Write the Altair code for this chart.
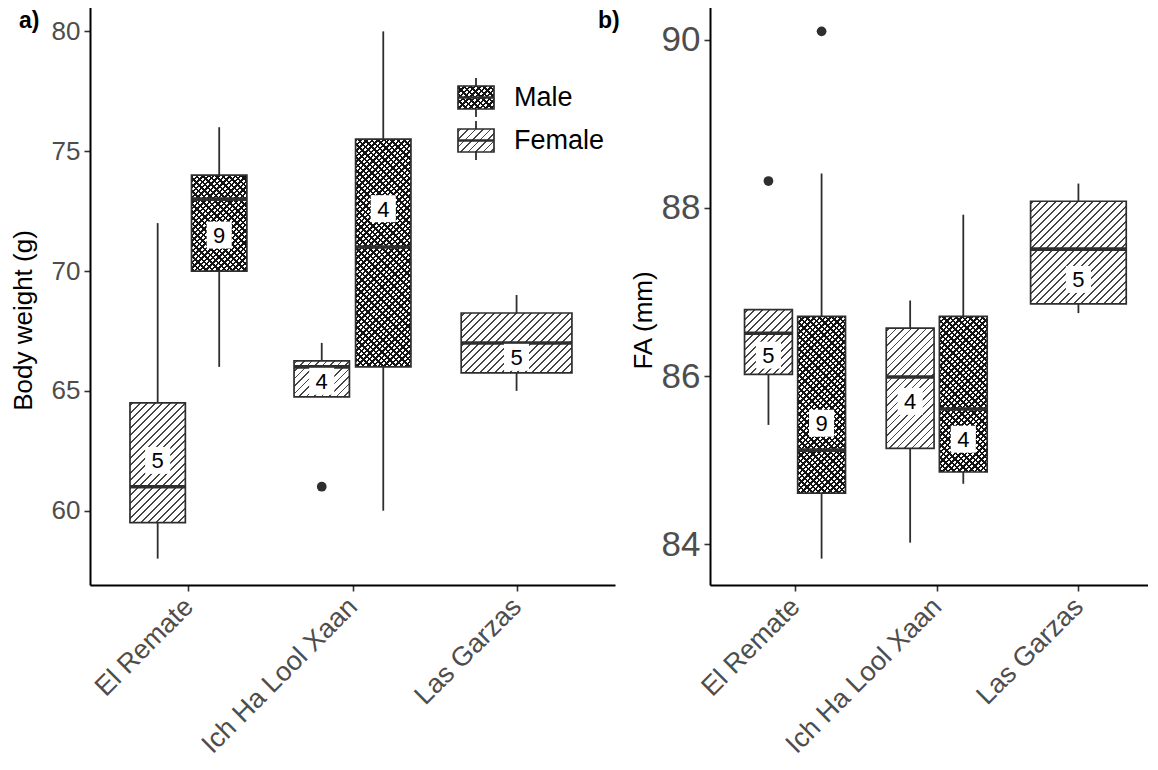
import json
import altair as alt
import pandas as pd

# ---------------- data ----------------
SITES = ["El Remate", "Ich Ha Lool Xaan", "Las Garzas"]
BOX_SITE = ["El Remate", "El Remate", "Ich Ha Lool Xaan", "Ich Ha Lool Xaan", "Las Garzas"]
BOX_SEX = ["Female", "Male", "Female", "Male", "Female"]

# Panel a: body weight (g)
BW_LOW = [58.0, 66.0, 64.75, 60.0, 65.0]
BW_Q1 = [59.5, 70.0, 64.75, 66.0, 65.75]
BW_MED = [61.0, 73.0, 66.0, 71.0, 67.0]
BW_Q3 = [64.5, 74.0, 66.25, 75.5, 68.25]
BW_HIGH = [72.0, 76.0, 67.0, 80.0, 69.0]
BW_N = [5, 9, 4, 4, 5]
BW_MEAN = [62.1, 71.5, 65.4, 72.6, 66.4]
BW_OUT_SITE = ["Ich Ha Lool Xaan"]
BW_OUT_SEX = ["Female"]
BW_OUT = [61.0]

# Panel b: FA (mm)
FA_LOW = [85.42, 83.83, 84.02, 84.72, 86.75]
FA_Q1 = [86.02, 84.61, 85.14, 84.86, 86.86]
FA_MED = [86.51, 85.12, 85.99, 85.61, 87.51]
FA_Q3 = [86.79, 86.71, 86.57, 86.71, 88.08]
FA_HIGH = [86.79, 88.41, 86.90, 87.92, 88.29]
FA_N = [5, 9, 4, 4, 5]
FA_MEAN = [86.25, 85.44, 85.70, 85.25, 87.15]
FA_OUT_SITE = ["El Remate", "El Remate"]
FA_OUT_SEX = ["Female", "Male"]
FA_OUT = [88.32, 90.1]

LEGEND_LABELS = ["Male", "Female"]
PANEL_TAGS = ["a)", "b)"]

# ---------------- layout / style ----------------
H = 580
W_A, XMAX_A = 525, 3.6
W_B = 438
XMAX_B = 0.4 + W_B / 141.7
DODGE, HW2, HW1 = 0.1875, 0.16875, 0.3375
FONT = "Liberation Sans"
LINE = "#2e2e2e"
SITES_JS = json.dumps(SITES)


def stripes(w, h, period, thick, dark, light, phase, direction):
    total = w + h
    stops = []
    c = phase
    while c - thick / 2 < total:
        a = max(c - thick / 2, 0.0)
        b = min(c + thick / 2, total)
        if b > 0:
            stops += [(a / total, light), (a / total, dark), (b / total, dark), (b / total, light)]
        c += period
    L = w * w + h * h
    gx = w * (w + h) / L
    gy = h * (w + h) / L
    if direction == "/":
        x1, y1, x2, y2 = 0, 0, gx, gy
    else:
        x1, y1, x2, y2 = 0, 1, gx, 1 - gy
    return {"gradient": "linear", "x1": x1, "y1": y1, "x2": x2, "y2": y2,
            "stops": [{"offset": round(o, 5), "color": col} for o, col in stops]}


def female_fill(w, h):
    return stripes(w, h, 7.5, 1.9, "#454545", "#ffffff", 3.0, "/")


def male_fills(w, h):
    return (stripes(w, h, 5.4, 2.4, "#141414", "#ffffff", 1.5, "/"),
            stripes(w, h, 6.5, 2.4, "#141414", "rgba(255,255,255,0)", 2.5, "\\"))


LABEL_BG = "M-0.93,-1H0.93V1H-0.93Z"


def panel(low, q1, med, q3, high, n, mean, out_site, out_sex, out_v, W, xmax,
          ticks, y_title, ysize, title_xy, extra=None):
    df = pd.DataFrame(dict(site=BOX_SITE, sex=BOX_SEX, low=low, q1=q1, med=med,
                           q3=q3, high=high, n=n, mean=mean))
    df["ng"] = df.groupby("site")["sex"].transform("count")
    df["bid"] = range(len(df))
    out = pd.DataFrame(dict(site=out_site, sex=out_sex, value=out_v))
    out = out.merge(df[["site", "sex", "ng"]], on=["site", "sex"], how="left")

    lo = min(low + out_v)
    hi = max(high + out_v)
    pad = 0.05 * (hi - lo)
    dom = [lo - pad, hi + pad]
    pxx = W / (xmax - 0.4)
    pxy = H / (dom[1] - dom[0])

    xs = alt.Scale(domain=[0.4, xmax], nice=False, zero=False)
    ys = alt.Scale(domain=dom, nice=False, zero=False)
    xaxis = alt.Axis(values=[1, 2, 3], labelExpr=f"{SITES_JS}[datum.value - 1]", title=None,
                     labelAngle=315, labelAlign="right", labelBaseline="top",
                     labelFontSize=27, labelFlush=False, labelOverlap=False, grid=False,
                     labelPadding=2, labelOffset=-9, labelFont=FONT, labelColor="#4d4d4d",
                     labelLimit=500)
    yaxis = alt.Axis(values=ticks, format="d", title=y_title, labelFontSize=ysize,
                     grid=False, titleX=title_xy[0], titleY=title_xy[1],
                     titleBaseline="middle", titleAngle=270, labelPadding=4,
                     titleFontSize=26, titleFont=FONT, titleFontWeight="normal",
                     titleColor="black", labelFont=FONT, labelColor="#4d4d4d")

    def X(f):
        return alt.X(f"{f}:Q", scale=xs, axis=xaxis)

    def Y(f):
        return alt.Y(f"{f}:Q", scale=ys, axis=yaxis)

    calc = dict(
        xc=f"indexof({SITES_JS}, datum.site) + 1 + (datum.ng > 1 ? (datum.sex == 'Female' ? -{DODGE} : {DODGE}) : 0)",
        hw=f"datum.ng > 1 ? {HW2} : {HW1}",
    )
    base = alt.Chart(df).transform_calculate(**calc).transform_calculate(
        xl="datum.xc - datum.hw", xr="datum.xc + datum.hw")

    layers = []
    layers.append(base.mark_rule(color=LINE, strokeWidth=1.8).encode(x=X("xc"), y=Y("q3"), y2="high:Q"))
    layers.append(base.mark_rule(color=LINE, strokeWidth=1.8).encode(x=X("xc"), y=Y("low"), y2="q1:Q"))

    for i in range(len(df)):
        hw = HW2 if df.ng[i] > 1 else HW1
        w = 2 * hw * pxx
        h = (df.q3[i] - df.q1[i]) * pxy
        sel = base.transform_filter(f"datum.bid == {i}")
        enc = dict(x=X("xl"), x2="xr:Q", y=Y("q1"), y2="q3:Q")
        if df.sex[i] == "Female":
            layers.append(sel.mark_rect(fill=female_fill(w, h)).encode(**enc))
        else:
            f1, f2 = male_fills(w, h)
            layers.append(sel.mark_rect(fill=f1).encode(**enc))
            layers.append(sel.mark_rect(fill=f2).encode(**enc))

    layers.append(base.mark_rect(fillOpacity=0, stroke=LINE, strokeWidth=1.7).encode(
        x=X("xl"), x2="xr:Q", y=Y("q1"), y2="q3:Q"))
    layers.append(base.mark_rule(color=LINE, strokeWidth=3.6).encode(x=X("xl"), x2="xr:Q", y=Y("med")))

    outc = alt.Chart(out).transform_calculate(**calc)
    layers.append(outc.mark_circle(size=95, color=LINE, opacity=1).encode(x=X("xc"), y=Y("value")))

    layers.append(base.mark_point(shape=LABEL_BG, size=729, filled=True, fill="white",
                                  opacity=1, strokeWidth=0).encode(x=X("xc"), y=Y("mean")))
    layers.append(base.mark_text(font=FONT, fontSize=22, color="black", baseline="middle",
                                 align="center", dy=1).encode(x=X("xc"), y=Y("mean"), text="n:Q"))
    if extra:
        layers += extra
    return alt.layer(*layers).properties(width=W, height=H)


# ---------------- legend & panel tags (drawn inside panel a) ----------------
def legend_layers():
    lay = []
    lw, lh = 36, 23
    bx0, bx1 = 368, 404
    keys = [("Male", 81), ("Female", 124)]
    for idx, (lab, top) in enumerate(keys):
        d = alt.Chart(pd.DataFrame({"lab": [LEGEND_LABELS[idx]]}))
        lay.append(d.mark_rule(color=LINE, strokeWidth=1.8).encode(
            x=alt.value(386), y=alt.value(top - 8), y2=alt.value(top + lh + 8)))
        if lab == "Female":
            lay.append(d.mark_rect(fill=female_fill(lw, lh)).encode(
                x=alt.value(bx0), x2=alt.value(bx1), y=alt.value(top), y2=alt.value(top + lh)))
        else:
            f1, f2 = male_fills(lw, lh)
            for f in (f1, f2):
                lay.append(d.mark_rect(fill=f).encode(
                    x=alt.value(bx0), x2=alt.value(bx1), y=alt.value(top), y2=alt.value(top + lh)))
        lay.append(d.mark_rect(fillOpacity=0, stroke=LINE, strokeWidth=1.7).encode(
            x=alt.value(bx0), x2=alt.value(bx1), y=alt.value(top), y2=alt.value(top + lh)))
        lay.append(d.mark_rule(color=LINE, strokeWidth=2.5).encode(
            x=alt.value(bx0), x2=alt.value(bx1), y=alt.value(top + lh / 2)))
        lay.append(d.mark_text(font=FONT, fontSize=27, align="left", baseline="middle",
                               color="black").encode(
            x=alt.value(424), y=alt.value(top + lh / 2), text="lab:N"))
    tags = alt.Chart(pd.DataFrame({"t": PANEL_TAGS}))
    for tag, px in zip(PANEL_TAGS, [-71, 508]):
        lay.append(tags.transform_filter(f"datum.t == '{tag}'").mark_text(
            font=FONT, fontSize=23, fontWeight="bold", align="left", baseline="middle",
            color="black").encode(x=alt.value(px), y=alt.value(16), text="t:N"))
    return lay


pa = panel(BW_LOW, BW_Q1, BW_MED, BW_Q3, BW_HIGH, BW_N, BW_MEAN, BW_OUT_SITE, BW_OUT_SEX, BW_OUT,
           W_A, XMAX_A, [60, 65, 70, 75, 80], "Body weight (g)", 26, (-66.5, 315),
           extra=legend_layers())
pb = panel(FA_LOW, FA_Q1, FA_MED, FA_Q3, FA_HIGH, FA_N, FA_MEAN, FA_OUT_SITE, FA_OUT_SEX, FA_OUT,
           W_B, XMAX_B, [84, 86, 88, 90], "FA (mm)", 35, (-67, 315))

chart = alt.hconcat(pa, pb, spacing=10).properties(
    padding={"left": 2, "top": -3, "right": 0, "bottom": 0}
).configure_view(stroke=None).configure_axis(
    domainColor="black", domainWidth=2,
    tickColor="#333333", tickWidth=1.6, tickSize=6
)

chart.save("out.html", embed_options={"renderer": "svg", "actions": False})
